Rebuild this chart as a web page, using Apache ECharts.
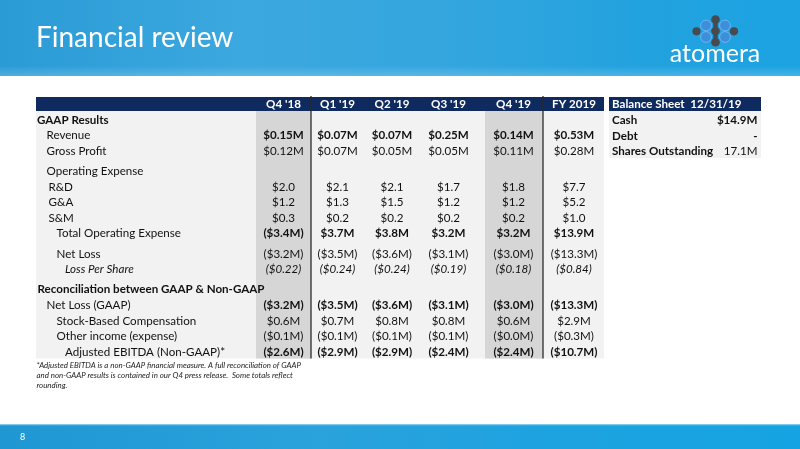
<!DOCTYPE html>
<html><head><meta charset="utf-8">
<script src="https://cdn.jsdelivr.net/npm/echarts@6/dist/echarts.min.js"></script>
<style>html,body{margin:0;padding:0;background:#fff;overflow:hidden}#c{width:800px;height:449px}</style>
</head><body><div id="c"></div>
<script>
// ---------- DATA ----------
const title = 'Financial review';
const periods = ["Q4 '18", "Q1 '19", "Q2 '19", "Q3 '19", "Q4 '19", "FY 2019"];
const rowLabels = [
  'GAAP Results', 'Revenue', 'Gross Profit', 'Operating Expense', 'R&D', 'G&A', 'S&M',
  'Total Operating Expense', 'Net Loss', 'Loss Per Share',
  'Reconciliation between GAAP & Non-GAAP', 'Net Loss (GAAP)', 'Stock-Based Compensation',
  'Other income (expense)', 'Adjusted EBITDA (Non-GAAP)*'
];
const revenue      = [0.15, 0.07, 0.07, 0.25, 0.14, 0.53];
const grossProfit  = [0.12, 0.07, 0.05, 0.05, 0.11, 0.28];
const rnd          = [2.0, 2.1, 2.1, 1.7, 1.8, 7.7];
const gna          = [1.2, 1.3, 1.5, 1.2, 1.2, 5.2];
const snm          = [0.3, 0.2, 0.2, 0.2, 0.2, 1.0];
const totalOpex    = [-3.4, 3.7, 3.8, 3.2, 3.2, 13.9];
const netLoss      = [-3.2, -3.5, -3.6, -3.1, -3.0, -13.3];
const lossPerShare = [-0.22, -0.24, -0.24, -0.19, -0.18, -0.84];
const netLossGaap  = [-3.2, -3.5, -3.6, -3.1, -3.0, -13.3];
const sbc          = [0.6, 0.7, 0.8, 0.8, 0.6, 2.9];
const otherIncome  = [-0.1, -0.1, -0.1, -0.1, -0.04, -0.3];
const adjEbitda    = [-2.6, -2.9, -2.9, -2.4, -2.4, -10.7];
const rowValues = [null, revenue, grossProfit, null, rnd, gna, snm, totalOpex, netLoss,
  lossPerShare, null, netLossGaap, sbc, otherIncome, adjEbitda];
const rowFormats = [null, 'M2', 'M2', null, 'D1', 'D1', 'D1', 'M1', 'M1', 'EPS', null, 'M1', 'M1', 'M1', 'M1'];

const bsTitle = 'Balance Sheet  12/31/19';
const bsLabels = ['Cash', 'Debt', 'Shares Outstanding'];
const bsValues = ['$14.9M', '-', '17.1M'];

const footnote = [
  '*Adjusted EBITDA is a non-GAAP financial measure. A full reconciliation of GAAP',
  'and non-GAAP results is contained in our Q4 press release.  Some totals reflect',
  'rounding.'
];
const pageNumber = '8';

// ---------- LAYOUT / STYLE ----------
const FONT = 'Lato, "Open Sans", sans-serif';
const FS = 11.6;
const L = {
  rowTop: 120, rowStep: 15.57,
  group: [0,0,0,1,1,1,1,1,2,2,3,3,3,3,3],
  indent: [37,46.5,46.5,46.5,48.5,48.5,48.5,56.5,56.5,65,37.5,46.5,56.5,56.5,65],
  labelWeight: ['bold','normal','normal','normal','normal','normal','normal','normal','normal','normal','bold','normal','normal','normal','normal'],
  valueWeight: [null,'bold','normal',null,'normal','normal','normal','bold','normal','normal',null,'bold','normal','normal','bold'],
  italic: [false,false,false,false,false,false,false,false,false,true,false,false,false,false,false],
  colCenter: [283.5, 337.5, 392, 448.5, 513.5, 574],
  shade: [[256, 311], [485, 543]],
  dividers: [311, 543],
  tableX: [36, 604], headY: [97, 111], bodyBottom: 358.5,
  bsX: [609, 761], bsBottom: 158, bsRowTop: 120.5, bsLabelX: 612, bsValueX: 757.5,
  headerH: 76, footerY: 424
};
function rowPos(r) { return r + 0.3 * L.group[r]; }
function rowPx(r) { return L.rowTop + rowPos(r) * L.rowStep; }

function fmt(v, kind) {
  const neg = v < 0; const a = Math.abs(v);
  let s;
  if (kind === 'M2') s = '$' + a.toFixed(2) + 'M';
  else if (kind === 'M1') s = '$' + a.toFixed(1) + 'M';
  else if (kind === 'D1') s = '$' + a.toFixed(1);
  else s = '$' + a.toFixed(2);
  return neg ? '(' + s + ')' : s;
}

// cell data
const cellData = [];
rowValues.forEach((vals, r) => { if (vals) vals.forEach((v, c) => cellData.push([c, r, v])); });
const labelData = rowLabels.map((t, r) => [r]);
const headData = periods.map((p, c) => [c]);

function txt(p, text, font, fill, align) {
  return { type: 'text', x: p[0], y: p[1],
    style: { text: text, font: font, fill: fill, align: align, verticalAlign: 'middle',
             textAlign: align, textVerticalAlign: 'middle' } };
}

const chart = echarts.init(document.getElementById('c'), null, { renderer: 'canvas' });

const headerGrad = new echarts.graphic.LinearGradient(0, 0, 1, 0, [
  { offset: 0, color: '#2b9bd6' }, { offset: 0.3, color: '#3ba8df' },
  { offset: 0.55, color: '#35a6de' }, { offset: 0.8, color: '#22a2df' }, { offset: 1, color: '#1ca3e2' }
]);
const footerGrad = new echarts.graphic.LinearGradient(0, 0, 1, 0, [
  { offset: 0, color: '#1f97d3' }, { offset: 0.4, color: '#2aa2dc' },
  { offset: 0.7, color: '#1da3e0' }, { offset: 1, color: '#16a3e3' }
]);

const graphics = [
  { type: 'rect', shape: { x: 0, y: 0, width: 800, height: L.headerH }, style: { fill: headerGrad }, z: 0 },
  { type: 'rect', shape: { x: 0, y: L.headerH - 10, width: 800, height: 10 },
    style: { fill: new echarts.graphic.LinearGradient(0, 0, 0, 1, [{offset:0,color:'rgba(255,255,255,0)'},{offset:1,color:'rgba(255,255,255,0.18)'}]) }, z: 0 },
  { type: 'rect', shape: { x: 0, y: L.footerY, width: 800, height: 449 - L.footerY }, style: { fill: footerGrad }, z: 0 },
  { type: 'rect', shape: { x: 0, y: L.footerY, width: 800, height: 1.2 }, style: { fill: '#7ccbef' }, z: 0 },
  // table backgrounds
  { type: 'rect', shape: { x: L.tableX[0], y: L.headY[1], width: L.tableX[1] - L.tableX[0], height: L.bodyBottom - L.headY[1] }, style: { fill: '#f2f2f2' }, z: 1 },
  { type: 'rect', shape: { x: L.tableX[0], y: L.headY[0], width: L.tableX[1] - L.tableX[0], height: L.headY[1] - L.headY[0] }, style: { fill: '#0f2a5e' }, z: 1 },
  { type: 'rect', shape: { x: L.bsX[0], y: L.headY[1], width: L.bsX[1] - L.bsX[0], height: L.bsBottom - L.headY[1] }, style: { fill: '#f2f2f2' }, z: 1 },
  { type: 'rect', shape: { x: L.bsX[0], y: L.headY[0], width: L.bsX[1] - L.bsX[0], height: L.headY[1] - L.headY[0] }, style: { fill: '#0f2a5e' }, z: 1 }
];
L.shade.forEach(s => graphics.push({ type: 'rect', shape: { x: s[0], y: L.headY[1], width: s[1] - s[0], height: L.bodyBottom - L.headY[1] }, style: { fill: '#d6d6d6' }, z: 2 }));
L.dividers.forEach(x => graphics.push({ type: 'line', shape: { x1: x, y1: L.headY[0] - 1, x2: x, y2: L.bodyBottom }, style: { stroke: '#2a2a2a', lineWidth: 1.3 }, z: 3 }));
// title
graphics.push({ type: 'text', x: 36, y: 38, style: { text: title, font: '28px ' + FONT, fill: '#ffffff', verticalAlign: 'middle', textVerticalAlign: 'middle' }, z: 5 });
// logo
const dotDark = '#474a4f', dotBlue = '#3d8fdc';
[[706,25.5],[706,37],[725,25.5],[725,37]].forEach(p => graphics.push({ type: 'circle', shape: { cx: p[0], cy: p[1], r: 5.4 }, style: { fill: dotBlue, stroke: '#7dbcef', lineWidth: 0.8 }, z: 5 }));
graphics.push({ type: 'rect', shape: { x: 713.3, y: 20, width: 4.4, height: 22, r: 2 }, style: { fill: dotDark }, z: 6 });
[[696.5,31.3,4.1],[734,31.3,4.1],[715.5,19.5,4.3],[715.5,31,4.3],[715.5,42.3,4.3]].forEach(p => graphics.push({ type: 'circle', shape: { cx: p[0], cy: p[1], r: p[2] }, style: { fill: dotDark }, z: 6 }));
graphics.push({ type: 'text', x: 715, y: 54, style: { text: 'atomera', font: '25px ' + FONT, fill: '#ffffff', align: 'center', verticalAlign: 'middle', textAlign: 'center', textVerticalAlign: 'middle' }, z: 5 });
// footnote
footnote.forEach((t, i) => graphics.push({ type: 'text', x: 36.5, y: 365.5 + i * 10, style: { text: t, font: 'italic 7.9px ' + FONT, fill: '#222', verticalAlign: 'middle', textVerticalAlign: 'middle' }, z: 5 }));
graphics.push({ type: 'text', x: 20, y: 437, style: { text: pageNumber, font: '9px ' + FONT, fill: '#ffffff', verticalAlign: 'middle', textVerticalAlign: 'middle' }, z: 5 });

chart.setOption({
  animation: false,
  grid: { left: 0, right: 0, top: 0, bottom: 0 },
  xAxis: { type: 'value', min: 0, max: 800, show: false },
  yAxis: { type: 'value', min: 0, max: 449, inverse: true, show: false },
  graphic: graphics,
  series: [
    { // column headers
      type: 'custom', z: 10, data: headData, silent: true,
      renderItem: (params, api) => {
        const c = api.value(0);
        const p = api.coord([L.colCenter[c], (L.headY[0] + L.headY[1]) / 2]);
        return txt(p, periods[c], 'bold ' + FS + 'px ' + FONT, '#ffffff', 'center');
      }
    },
    { // row labels
      type: 'custom', z: 10, data: labelData, silent: true,
      renderItem: (params, api) => {
        const r = api.value(0);
        const p = api.coord([L.indent[r], rowPx(r)]);
        const f = (L.italic[r] ? 'italic ' : '') + L.labelWeight[r] + ' ' + FS + 'px ' + FONT;
        return txt(p, rowLabels[r], f, '#111111', 'left');
      }
    },
    { // value cells
      type: 'custom', z: 10, data: cellData, silent: true,
      renderItem: (params, api) => {
        const c = api.value(0), r = api.value(1), v = api.value(2);
        const p = api.coord([L.colCenter[c], rowPx(r)]);
        const f = (L.italic[r] ? 'italic ' : '') + L.valueWeight[r] + ' ' + FS + 'px ' + FONT;
        return txt(p, fmt(v, rowFormats[r]), f, '#111111', 'center');
      }
    },
    { // balance sheet
      type: 'custom', z: 10, data: bsLabels.map((t, i) => [i]).concat([[-1]]), silent: true,
      renderItem: (params, api) => {
        const i = api.value(0);
        if (i < 0) {
          const p = api.coord([L.bsLabelX, (L.headY[0] + L.headY[1]) / 2]);
          return txt(p, bsTitle, 'bold ' + FS + 'px ' + FONT, '#ffffff', 'left');
        }
        const y = L.bsRowTop + i * L.rowStep;
        const pl = api.coord([L.bsLabelX, y]);
        const pv = api.coord([L.bsValueX, y]);
        return { type: 'group', children: [
          txt(pl, bsLabels[i], 'bold ' + FS + 'px ' + FONT, '#111111', 'left'),
          txt(pv, bsValues[i], (i === 2 ? 'normal ' : 'bold ') + FS + 'px ' + FONT, '#111111', 'right')
        ] };
      }
    }
  ]
});
</script></body></html>
